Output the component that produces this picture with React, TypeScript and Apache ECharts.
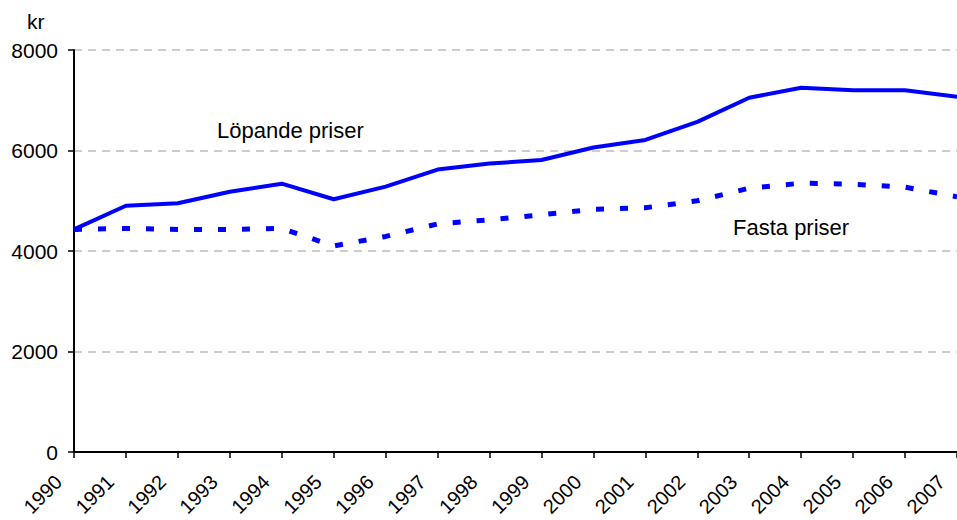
import React, { useEffect, useRef } from "react";
import * as echarts from "echarts";

const years = ["1990","1991","1992","1993","1994","1995","1996","1997","1998","1999","2000","2001","2002","2003","2004","2005","2006","2007"];
const lopande = [4430, 4900, 4950, 5180, 5340, 5030, 5280, 5620, 5740, 5810, 6060, 6210, 6570, 7050, 7250, 7200, 7200, 7070];
const fasta = [4430, 4450, 4430, 4430, 4450, 4100, 4290, 4540, 4620, 4720, 4830, 4860, 5000, 5250, 5350, 5330, 5270, 5080];
const yTicks = [0, 2000, 4000, 6000, 8000];

const FONT = "'Liberation Sans', Arial, sans-serif";

export default function App() {
  const ref = useRef<HTMLDivElement>(null);
  useEffect(() => {
    if (!ref.current) return;
    const chart = echarts.init(ref.current, undefined, { renderer: "svg" });
    chart.setOption({
      animation: false,
      grid: { left: 74, right: 0, top: 50, bottom: 68, containLabel: false, outerBoundsMode: "none" },
      xAxis: {
        type: "category",
        data: years,
        boundaryGap: false,
        axisLine: { show: true, lineStyle: { color: "#000", width: 2 } },
        axisTick: { show: true, length: 6, lineStyle: { color: "#000", width: 1.5 }, alignWithLabel: true },
        axisLabel: {
          rotate: 45,
          margin: 11,
          padding: [0, 22, 0, 0],
          color: "#000",
          fontSize: 20,
          fontFamily: FONT,
          interval: 0,
          hideOverlap: false,
        },
        splitLine: { show: false },
      },
      yAxis: {
        type: "value",
        min: yTicks[0],
        max: yTicks[yTicks.length - 1],
        interval: 2000,
        axisLine: { show: true, lineStyle: { color: "#000", width: 2 } },
        axisTick: { show: true, length: 6, lineStyle: { color: "#000", width: 1.5 } },
        axisLabel: { margin: 16, color: "#000", fontSize: 21, fontFamily: FONT, formatter: (v: number) => String(v) },
        splitLine: { show: true, lineStyle: { color: "#bdbdbd", width: 1.5, type: [8, 6] } },
      },
      graphic: [
        { type: "text", left: 27, top: 11, style: { text: "kr", fontSize: 21, fontFamily: FONT, fill: "#000" } },
        { type: "text", left: 217, top: 119, style: { text: "Löpande priser", fontSize: 22, fontFamily: FONT, fill: "#000" } },
        { type: "text", left: 733, top: 216, style: { text: "Fasta priser", fontSize: 22, fontFamily: FONT, fill: "#000" } },
      ],
      series: [
        {
          name: "Löpande priser",
          type: "line",
          data: lopande,
          symbol: "none",
          lineStyle: { color: "#0000ff", width: 4 },
          z: 3,
        },
        {
          name: "Fasta priser",
          type: "line",
          data: fasta,
          symbol: "none",
          lineStyle: { color: "#0000ff", width: 5, type: [8, 16], cap: "butt" },
          z: 3,
        },
      ],
    });
    return () => chart.dispose();
  }, []);
  return <div ref={ref} style={{ width: 957, height: 520, position: "absolute", left: 0, top: 0 }} />;
}
